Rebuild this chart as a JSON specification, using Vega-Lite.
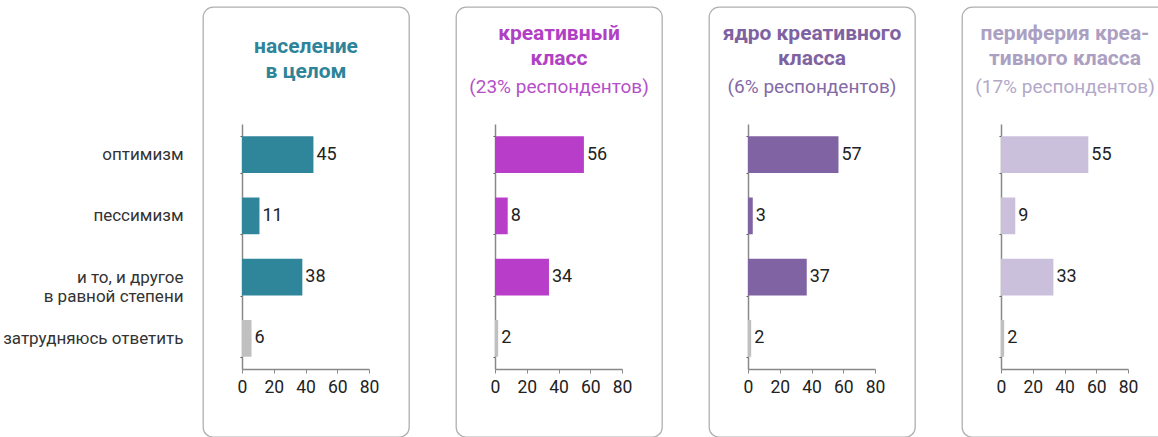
{
  "$schema": "https://vega.github.io/schema/vega-lite/v6.json",
  "padding": {"left": 2, "top": -3, "right": 0, "bottom": 0},
  "background": "white",
  "data": {"values": [
    {"group": "pop", "answer": "оптимизм", "value": 45},
    {"group": "pop", "answer": "пессимизм", "value": 11},
    {"group": "pop", "answer": "и то, и другое в равной степени", "value": 38},
    {"group": "pop", "answer": "затрудняюсь ответить", "value": 6},
    {"group": "creative", "answer": "оптимизм", "value": 56},
    {"group": "creative", "answer": "пессимизм", "value": 8},
    {"group": "creative", "answer": "и то, и другое в равной степени", "value": 34},
    {"group": "creative", "answer": "затрудняюсь ответить", "value": 2},
    {"group": "core", "answer": "оптимизм", "value": 57},
    {"group": "core", "answer": "пессимизм", "value": 3},
    {"group": "core", "answer": "и то, и другое в равной степени", "value": 37},
    {"group": "core", "answer": "затрудняюсь ответить", "value": 2},
    {"group": "periphery", "answer": "оптимизм", "value": 55},
    {"group": "periphery", "answer": "пессимизм", "value": 9},
    {"group": "periphery", "answer": "и то, и другое в равной степени", "value": 33},
    {"group": "periphery", "answer": "затрудняюсь ответить", "value": 2}
  ]},
  "spacing": 45,
  "hconcat": [
    {
      "width": 206, "height": 430,
      "transform": [{"filter": "datum.group === 'pop'"}],
      "title": {"text": ["население", "в целом"], "color": "#2E8499", "offset": -84},
      "encoding": {
        "y": {"field": "answer", "type": "nominal", "sort": ["оптимизм", "пессимизм", "и то, и другое в равной степени", "затрудняюсь ответить"],
              "scale": {"range": [117, 362], "paddingInner": 0.4, "paddingOuter": 0.2},
              "axis": {"title": null, "offset": -39, "labels": true, "labelPadding": 57, "labelLimit": 300, "tickSize": 2, "tickBand": "extent",
                       "labelExpr": "datum.value == 'и то, и другое в равной степени' ? ['и то, и другое', 'в равной степени'] : datum.label"}},
        "x": {"field": "value", "type": "quantitative", "scale": {"domain": [0, 80], "range": [39, 166], "nice": false},
              "axis": {"title": null, "offset": -68, "values": [0, 20, 40, 60, 80], "grid": false}}
      },
      "layer": [
        {"mark": {"type": "bar"}, "encoding": {"color": {"condition": {"test": "datum.answer === 'затрудняюсь ответить'", "value": "#C0C0C0"}, "value": "#2F869B"}}},
        {"mark": {"type": "text", "align": "left", "baseline": "middle", "dx": 3, "fontSize": 18, "color": "#222"}, "encoding": {"text": {"field": "value"}}}
      ]
    },
    {
      "width": 206, "height": 430,
      "transform": [{"filter": "datum.group === 'creative'"}],
      "title": {"text": ["креативный", "класс"], "subtitle": "(23% респондентов)", "color": "#B040C4", "subtitleColor": "#B54FC9", "offset": -90},
      "encoding": {
        "y": {"field": "answer", "type": "nominal", "sort": ["оптимизм", "пессимизм", "и то, и другое в равной степени", "затрудняюсь ответить"],
              "scale": {"range": [117, 362], "paddingInner": 0.4, "paddingOuter": 0.2},
              "axis": {"title": null, "offset": -39, "labels": false, "tickSize": 2, "tickBand": "extent"}},
        "x": {"field": "value", "type": "quantitative", "scale": {"domain": [0, 80], "range": [39, 166], "nice": false},
              "axis": {"title": null, "offset": -68, "values": [0, 20, 40, 60, 80], "grid": false}}
      },
      "layer": [
        {"mark": {"type": "bar"}, "encoding": {"color": {"condition": {"test": "datum.answer === 'затрудняюсь ответить'", "value": "#C0C0C0"}, "value": "#B83DC9"}}},
        {"mark": {"type": "text", "align": "left", "baseline": "middle", "dx": 3, "fontSize": 18, "color": "#222"}, "encoding": {"text": {"field": "value"}}}
      ]
    },
    {
      "width": 206, "height": 430,
      "transform": [{"filter": "datum.group === 'core'"}],
      "title": {"text": ["ядро креативного", "класса"], "subtitle": "(6% респондентов)", "color": "#7E62A2", "subtitleColor": "#8369A6", "offset": -90},
      "encoding": {
        "y": {"field": "answer", "type": "nominal", "sort": ["оптимизм", "пессимизм", "и то, и другое в равной степени", "затрудняюсь ответить"],
              "scale": {"range": [117, 362], "paddingInner": 0.4, "paddingOuter": 0.2},
              "axis": {"title": null, "offset": -39, "labels": false, "tickSize": 2, "tickBand": "extent"}},
        "x": {"field": "value", "type": "quantitative", "scale": {"domain": [0, 80], "range": [39, 166], "nice": false},
              "axis": {"title": null, "offset": -68, "values": [0, 20, 40, 60, 80], "grid": false}}
      },
      "layer": [
        {"mark": {"type": "bar"}, "encoding": {"color": {"condition": {"test": "datum.answer === 'затрудняюсь ответить'", "value": "#C0C0C0"}, "value": "#8063A2"}}},
        {"mark": {"type": "text", "align": "left", "baseline": "middle", "dx": 3, "fontSize": 18, "color": "#222"}, "encoding": {"text": {"field": "value"}}}
      ]
    },
    {
      "width": 206, "height": 430,
      "transform": [{"filter": "datum.group === 'periphery'"}],
      "title": {"text": ["периферия креа-", "тивного класса"], "subtitle": "(17% респондентов)", "color": "#ABA0C2", "subtitleColor": "#B2A8C8", "offset": -90},
      "encoding": {
        "y": {"field": "answer", "type": "nominal", "sort": ["оптимизм", "пессимизм", "и то, и другое в равной степени", "затрудняюсь ответить"],
              "scale": {"range": [117, 362], "paddingInner": 0.4, "paddingOuter": 0.2},
              "axis": {"title": null, "offset": -39, "labels": false, "tickSize": 2, "tickBand": "extent"}},
        "x": {"field": "value", "type": "quantitative", "scale": {"domain": [0, 80], "range": [39, 166], "nice": false},
              "axis": {"title": null, "offset": -68, "values": [0, 20, 40, 60, 80], "grid": false}}
      },
      "layer": [
        {"mark": {"type": "bar"}, "encoding": {"color": {"condition": {"test": "datum.answer === 'затрудняюсь ответить'", "value": "#C0C0C0"}, "value": "#CBC0DC"}}},
        {"mark": {"type": "text", "align": "left", "baseline": "middle", "dx": 3, "fontSize": 18, "color": "#222"}, "encoding": {"text": {"field": "value"}}}
      ]
    }
  ],
  "config": {
    "font": "Roboto",
    "view": {"stroke": "#B0B0B0", "strokeWidth": 1.3, "cornerRadius": 10, "fill": "white"},
    "title": {"anchor": "middle", "frame": "group", "fontSize": 21, "fontWeight": "bold", "lineHeight": 25, "subtitleFontSize": 19, "subtitleFontWeight": "normal", "subtitlePadding": 9, "subtitleLineHeight": 22},
    "axis": {"domainColor": "#888", "domainWidth": 1.5, "tickColor": "#555", "labelFont": "Roboto", "labelColor": "#222"},
    "axisX": {"labelFontSize": 17.5, "tickSize": 4, "labelPadding": 5, "tickColor": "#888", "labelFlush": false},
    "axisY": {"labelFontSize": 17, "labelLineHeight": 19, "labelColor": "#333"}
  }
}
